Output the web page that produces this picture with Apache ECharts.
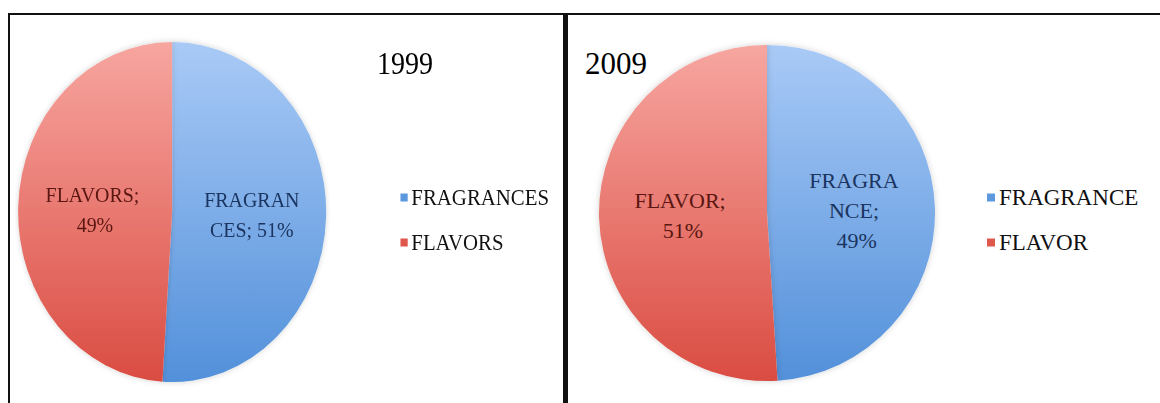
<!DOCTYPE html>
<html>
<head>
<meta charset="utf-8">
<script src="https://cdn.jsdelivr.net/npm/echarts@6/dist/echarts.min.js"></script>
<style>
  html, body { margin: 0; padding: 0; background: #fff; }
  body { width: 1160px; height: 403px; position: relative; overflow: hidden; }
  #left { position: absolute; left: 0; top: 0; width: 640px; height: 403px; transform: scaleX(0.906); transform-origin: 0 0; }
  #right { position: absolute; left: 560px; top: 0; width: 600px; height: 403px; }
  .frame { position: absolute; box-sizing: border-box; z-index: 5; pointer-events: none; }
  #frameLeft { left: 8px; top: 13px; width: 557px; height: 400px; border-left: 2px solid #111; border-top: 2px solid #111; border-right: 2px solid #111; }
  #frameRight { left: 565px; top: 13px; width: 600px; height: 400px; border-left: 3px solid #111; border-top: 2px solid #111; }
</style>
</head>
<body>
<div id="left"></div>
<div id="right"></div>
<div class="frame" id="frameLeft"></div>
<div class="frame" id="frameRight"></div>
<script>
// values
const years = ['1999', '2009']
const names1999 = ['FRAGRANCES', 'FLAVORS']
const values1999 = [51, 49]
const names2009 = ['FRAGRANCE', 'FLAVOR']
const values2009 = [49, 51]
// where the slice labels wrap (char index of each break)
const breaks1999 = [[7], [8]]
const breaks2009 = [[6, 10], [7]]

const blueFill = new echarts.graphic.LinearGradient(0, 0, 0, 1, [
  { offset: 0, color: '#A9CAF6' },
  { offset: 1, color: '#5290DA' }
])
const redFill = new echarts.graphic.LinearGradient(0, 0, 0, 1, [
  { offset: 0, color: '#F7A6A0' },
  { offset: 1, color: '#DA4C42' }
])
const fills = [blueFill, redFill]
const iconColors = ['#5B98DE', '#E0574D']
const labelColors = ['#1B3560', '#5A1610']

function wrap (text, cuts) {
  let out = ''
  let last = 0
  cuts.forEach(c => { out += text.slice(last, c) + '\n'; last = c })
  return out + text.slice(last)
}

function makePie (el, year, names, values, breaks, layout) {
  const chart = echarts.init(document.getElementById(el), null, { renderer: 'svg' })
  chart.setOption({
    animation: false,
    title: {
      text: year,
      left: layout.titleLeft,
      top: 43,
      textStyle: { fontFamily: 'Liberation Serif', fontSize: 31, fontWeight: 'normal', color: '#000' }
    },
    legend: {
      orient: 'vertical',
      left: layout.legendLeft,
      top: 181,
      itemWidth: 8,
      itemHeight: 8,
      itemGap: 22,
      icon: 'rect',
      textStyle: { fontFamily: 'Liberation Serif', fontSize: 23, color: '#111', padding: [0, 0, 0, -1] },
      data: names.map((n, i) => ({ name: n, itemStyle: { color: iconColors[i] } }))
    },
    series: [{
      type: 'pie',
      center: [layout.cx, layout.cy],
      radius: layout.r,
      startAngle: 90,
      clockwise: true,
      label: {
        position: 'inside',
        fontFamily: 'Liberation Serif',
        fontSize: 22,
        lineHeight: 30,
        align: 'center',
        formatter: p => wrap(p.name + '; ' + p.value + '%', breaks[p.dataIndex])
      },
      labelLine: { show: false },
      emphasis: { disabled: true },
      data: names.map((n, i) => ({
        name: n,
        value: values[i],
        itemStyle: { color: fills[i], shadowBlur: 6, shadowColor: 'rgba(0,0,0,0.18)' },
        label: { color: labelColors[i] }
      }))
    }]
  })
  return chart
}

makePie('left', years[0], names1999, values1999, breaks1999,
  { cx: 190, cy: 212, r: 170, titleLeft: 411, legendLeft: 437 })
makePie('right', years[1], names2009, values2009, breaks2009,
  { cx: 207, cy: 213, r: 168, titleLeft: 20, legendLeft: 422 })
</script>
</body>
</html>
